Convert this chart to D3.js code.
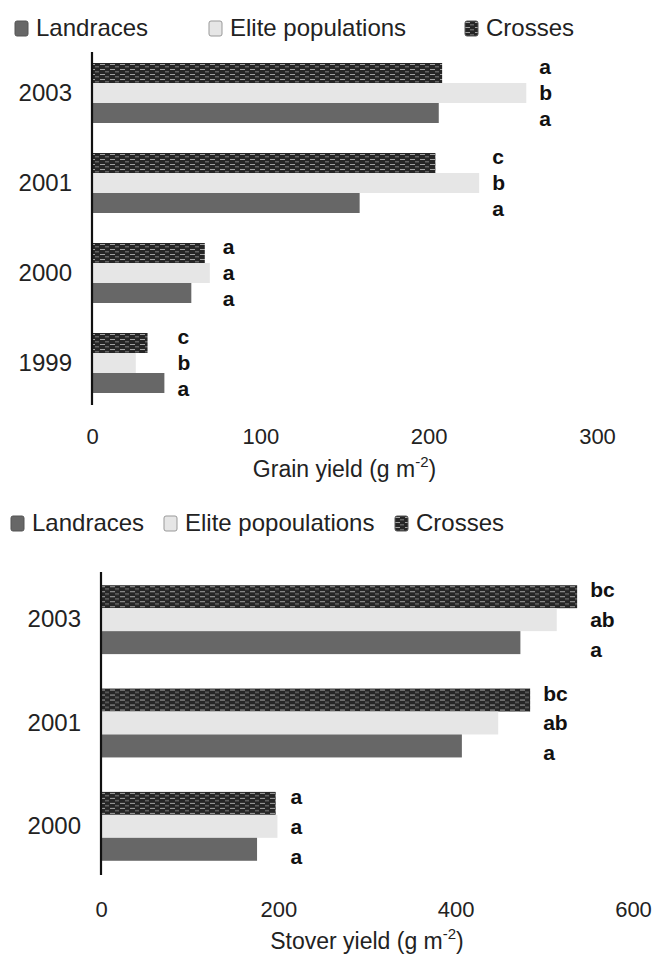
<!DOCTYPE html>
<html><head><meta charset="utf-8">
<script src="https://cdn.jsdelivr.net/npm/d3@7"></script>
<style>body{margin:0;background:#fff}svg{display:block}text{font-family:"Liberation Sans",Arial,sans-serif}</style>
</head><body>
<script>
const series = ["Crosses","Elite","Landraces"];
const grainYears = ["2003","2001","2000","1999"];
const grainLandraces = [206,159,59,43];
const grainElite = [258,230,70,26];
const grainCrosses = [208,204,67,33];
const grainLetters = [["a","b","a"],["c","b","a"],["a","a","a"],["c","b","a"]]; // crosses, elite, landraces
const grainTicks = [0,100,200,300];
const grainLegend = ["Landraces","Elite populations","Crosses"];

const stoverYears = ["2003","2001","2000"];
const stoverLandraces = [473,407,176];
const stoverElite = [514,448,199];
const stoverCrosses = [537,484,197];
const stoverLetters = [["bc","ab","a"],["bc","ab","a"],["a","a","a"]];
const stoverTicks = [0,200,400,600];
const stoverLegend = ["Landraces","Elite popoulations","Crosses"];

const W=656,H=956;
const FF='"Liberation Sans",Arial,sans-serif';
const svg=d3.select("body").append("svg").attr("width",W).attr("height",H);
const defs=svg.append("defs");
const pat=defs.append("pattern").attr("id","hatch").attr("patternUnits","userSpaceOnUse").attr("width",10).attr("height",5);
pat.append("rect").attr("width",10).attr("height",5).attr("fill","#262626");
pat.append("rect").attr("x",0).attr("y",1).attr("width",5).attr("height",0.9).attr("fill","#b0b0b0");
pat.append("rect").attr("x",5).attr("y",3.4).attr("width",4).attr("height",0.9).attr("fill","#8a8a8a");
const fills={Crosses:"url(#hatch)",Elite:"#e6e6e6",Landraces:"#676767"};

function legend(y,labels,xs){
  const keys=["Landraces","Elite","Crosses"];
  labels.forEach((lab,i)=>{
    const g=svg.append("g").attr("transform",`translate(${xs[i]},${y})`);
    g.append("rect").attr("x",0).attr("y",-15).attr("width",13).attr("height",15).attr("rx",2)
      .attr("fill",fills[keys[i]]).attr("stroke",keys[i]==="Elite"?"#999":"#555").attr("stroke-width",1);
    g.append("text").attr("x",21).attr("y",0).attr("font-size",24).attr("fill","#222").text(lab);
  });
}

function chart(opts){
  const {years,L,E,C,letters,ticks,xDomain,xRange,yRange,titleMain,titleY,tickY}=opts;
  const x=d3.scaleLinear().domain(xDomain).range(xRange);
  const y=d3.scaleBand().domain(years).range(yRange).paddingInner(1/3).paddingOuter(1/6);
  const sub=d3.scaleBand().domain(series).range([0,y.bandwidth()]);
  const rows=years.map((yr,i)=>({yr,vals:{Crosses:C[i],Elite:E[i],Landraces:L[i]},letters:letters[i]}));
  const g=svg.append("g");
  rows.forEach(r=>{
    const gg=g.append("g").attr("transform",`translate(0,${y(r.yr)})`);
    series.forEach((s,j)=>{
      gg.append("rect").attr("x",x(0)).attr("y",sub(s)).attr("width",x(r.vals[s])-x(0)).attr("height",sub.bandwidth())
        .attr("fill",fills[s]);
    });
    const mx=d3.max(series,s=>r.vals[s]);
    const gc=y.bandwidth()/2;
    series.forEach((s,j)=>{
      const cy=gc+(sub(s)+sub.bandwidth()/2-gc)*1.3;
      gg.append("text").attr("x",x(mx)+13).attr("y",cy).attr("dy","0.35em")
        .attr("font-size",21).attr("font-weight","bold").attr("fill","#111").text(r.letters[j]);
    });
  });
  const ya=g.append("g").attr("transform",`translate(${x(0)},0)`)
    .call(d3.axisLeft(y).tickSize(0).tickPadding(20));
  ya.select(".domain").attr("stroke","#111").attr("stroke-width",2.2).attr("d",`M0,${yRange[0]+4}V${yRange[1]-3}`);
  ya.selectAll("text").attr("font-size",24).attr("fill","#222").style("font-family",FF);
  const xa=g.append("g").attr("transform",`translate(0,${tickY})`)
    .call(d3.axisBottom(x).tickValues(ticks).tickSize(0).tickPadding(0));
  xa.select(".domain").remove();
  xa.selectAll("text").attr("font-size",22).attr("fill","#222").attr("dy",0).style("font-family",FF);
  const t=g.append("text").attr("x",(x(0)+x(xDomain[1]))/2).attr("y",titleY).attr("text-anchor","middle")
    .attr("font-size",23).attr("fill","#222");
  t.append("tspan").text(titleMain+" (g m");
  t.append("tspan").attr("font-size",15).attr("dy",-10).text("-2");
  t.append("tspan").attr("dy",10).text(")");
}

legend(36,grainLegend,[15,209,465]);
chart({years:grainYears,L:grainLandraces,E:grainElite,C:grainCrosses,letters:grainLetters,ticks:grainTicks,
  xDomain:[0,300],xRange:[92,597],yRange:[48,408],titleMain:"Grain yield",tickY:444,titleY:477});

legend(531,stoverLegend,[11,164,395]);
chart({years:stoverYears,L:stoverLandraces,E:stoverElite,C:stoverCrosses,letters:stoverLetters,ticks:stoverTicks,
  xDomain:[0,600],xRange:[101,633],yRange:[568,878],titleMain:"Stover yield",tickY:917,titleY:949});
</script>
</body></html>
